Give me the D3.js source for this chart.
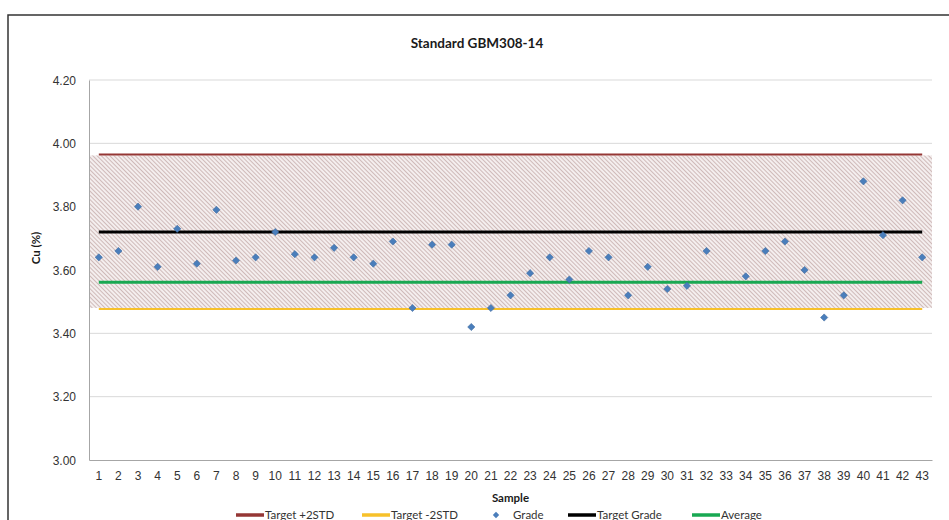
<!DOCTYPE html>
<html>
<head>
<meta charset="utf-8">
<title>Standard GBM308-14</title>
<script src="https://d3js.org/d3.v7.min.js"></script>
<style>
  body { margin: 0; background: #fff; }
  svg { display: block; font-family: Lato, "Open Sans", sans-serif; }
  .tick text { fill: #333; }
</style>
</head>
<body>
<div id="chart"></div>
<script>
// sample numbers on the x axis
var samples = d3.range(1, 44);

// Cu grade of each sample (sample 33 has no result)
var grade = [3.64, 3.66, 3.80, 3.61, 3.73, 3.62, 3.79, 3.63, 3.64, 3.72,
             3.65, 3.64, 3.67, 3.64, 3.62, 3.69, 3.48, 3.68, 3.68, 3.42,
             3.48, 3.52, 3.59, 3.64, 3.57, 3.66, 3.64, 3.52, 3.61, 3.54,
             3.55, 3.66, null, 3.58, 3.66, 3.69, 3.60, 3.45, 3.52, 3.88,
             3.71, 3.82, 3.64];

// reference lines
var targetPlus2 = 3.965;
var targetMinus2 = 3.477;
var targetGrade = 3.72;
var average = 3.561;

var yTicks = [3.00, 3.20, 3.40, 3.60, 3.80, 4.00, 4.20];

var legendItems = [
  { name: "Target +2STD", color: "#953735", type: "line" },
  { name: "Target -2STD", color: "#f7c12a", type: "line" },
  { name: "Grade", color: "#4a7ebb", type: "point" },
  { name: "Target Grade", color: "#000000", type: "line" },
  { name: "Average", color: "#19a852", type: "line" }
];

var width = 949, height = 520;
var plot = { left: 89, right: 932, top: 80, bottom: 460 };

var svg = d3.select("#chart").append("svg")
    .attr("width", width)
    .attr("height", height);

// hatch pattern for the +/-2STD band
var defs = svg.append("defs");
var pat = defs.append("pattern")
    .attr("id", "hatch")
    .attr("patternUnits", "userSpaceOnUse")
    .attr("width", 3)
    .attr("height", 3)
    .attr("patternTransform", "rotate(-45)");
pat.append("rect").attr("width", 3).attr("height", 3).attr("fill", "#f4eeee");
pat.append("line")
    .attr("x1", 0).attr("y1", 0).attr("x2", 0).attr("y2", 3)
    .attr("stroke", "#b08f8e")
    .attr("stroke-width", 1.1);

// chart frame
svg.append("path")
    .attr("d", "M8,520 L8,15 L960,15")
    .attr("fill", "none")
    .attr("stroke", "#333")
    .attr("stroke-width", 1.5);

var x = d3.scaleBand()
    .domain(samples)
    .range([plot.left, plot.right]);

var y = d3.scaleLinear()
    .domain([3.0, 4.2])
    .range([plot.bottom, plot.top]);

// gridlines
svg.append("g")
  .selectAll("line")
  .data(yTicks.slice(1))
  .join("line")
    .attr("x1", plot.left)
    .attr("x2", plot.right)
    .attr("y1", function(d){ return y(d); })
    .attr("y2", function(d){ return y(d); })
    .attr("stroke", "#d9d9d9")
    .attr("stroke-width", 1);

// hatched band
svg.append("rect")
    .attr("x", plot.left)
    .attr("width", plot.right - plot.left)
    .attr("y", y(targetPlus2) + 1)
    .attr("height", y(targetMinus2) - y(targetPlus2) - 2)
    .attr("fill", "url(#hatch)");

// y axis
var yAxis = svg.append("g")
    .attr("transform", "translate(" + plot.left + ",0)")
    .call(d3.axisLeft(y).tickValues(yTicks).tickFormat(d3.format(".2f")).tickSize(0).tickPadding(13));
yAxis.select(".domain").attr("stroke", "#a6a6a6");
yAxis.selectAll("text").style("font-size", "12px").attr("dy", "0.35em");

// x axis
var xAxis = svg.append("g")
    .attr("transform", "translate(0," + plot.bottom + ")")
    .call(d3.axisBottom(x).tickSize(0).tickPadding(11));
xAxis.select(".domain").attr("stroke", "#a6a6a6");
xAxis.selectAll("text").style("font-size", "12px");

// reference lines from first to last sample
var x0 = x(samples[0]) + x.bandwidth() / 2;
var x1 = x(samples[samples.length - 1]) + x.bandwidth() / 2;
var refLines = [
  { v: targetMinus2, color: "#f7c12a", w: 2 },
  { v: targetPlus2, color: "#953735", w: 2 },
  { v: average, color: "#19a852", w: 3 },
  { v: targetGrade, color: "#000000", w: 3 }
];
svg.append("g")
  .selectAll("line")
  .data(refLines)
  .join("line")
    .attr("x1", x0).attr("x2", x1)
    .attr("y1", function(d){ return y(d.v); })
    .attr("y2", function(d){ return y(d.v); })
    .attr("stroke", function(d){ return d.color; })
    .attr("stroke-width", function(d){ return d.w; });

// grade points as diamonds
function diamond(r) {
  return "M0," + (-r) + "L" + r + ",0L0," + r + "L" + (-r) + ",0Z";
}
svg.append("g")
  .selectAll("path")
  .data(samples.map(function(s, i){ return { s: s, v: grade[i] }; }).filter(function(d){ return d.v != null; }))
  .join("path")
    .attr("d", diamond(3.6))
    .attr("transform", function(d){ return "translate(" + (x(d.s) + x.bandwidth() / 2) + "," + y(d.v) + ")"; })
    .attr("fill", "#4a7ebb")
    .attr("stroke", "#3d6a9f")
    .attr("stroke-width", 0.6);

// title
svg.append("text")
    .attr("x", 477)
    .attr("y", 48)
    .attr("text-anchor", "middle")
    .style("font-size", "13.5px")
    .style("font-weight", "bold")
    .attr("fill", "#1a1a1a")
    .text("Standard GBM308-14");

// axis titles
svg.append("text")
    .attr("transform", "translate(40,248) rotate(-90)")
    .attr("text-anchor", "middle")
    .style("font-size", "11.5px")
    .style("font-weight", "bold")
    .attr("fill", "#1a1a1a")
    .text("Cu (%)");

svg.append("text")
    .attr("x", (plot.left + plot.right) / 2)
    .attr("y", 502)
    .attr("text-anchor", "middle")
    .style("font-size", "11.5px")
    .style("font-weight", "bold")
    .attr("fill", "#1a1a1a")
    .text("Sample");

// legend
var legendX = [236, 362, 488, 568, 692];
var leg = svg.append("g")
  .selectAll("g")
  .data(legendItems)
  .join("g")
    .attr("transform", function(d, i){ return "translate(" + legendX[i] + ",515)"; });

leg.filter(function(d){ return d.type === "line"; })
  .append("line")
    .attr("x1", 0).attr("x2", 28)
    .attr("stroke", function(d){ return d.color; })
    .attr("stroke-width", 3.5);
leg.filter(function(d){ return d.type === "point"; })
  .append("path")
    .attr("d", diamond(3.2))
    .attr("transform", "translate(8,0)")
    .attr("fill", function(d){ return d.color; });
leg.append("text")
    .attr("x", function(d){ return d.type === "line" ? 29 : 25; })
    .attr("dy", "0.35em")
    .style("font-size", "11.5px")
    .attr("fill", "#333")
    .text(function(d){ return d.name; });
</script>
</body>
</html>
